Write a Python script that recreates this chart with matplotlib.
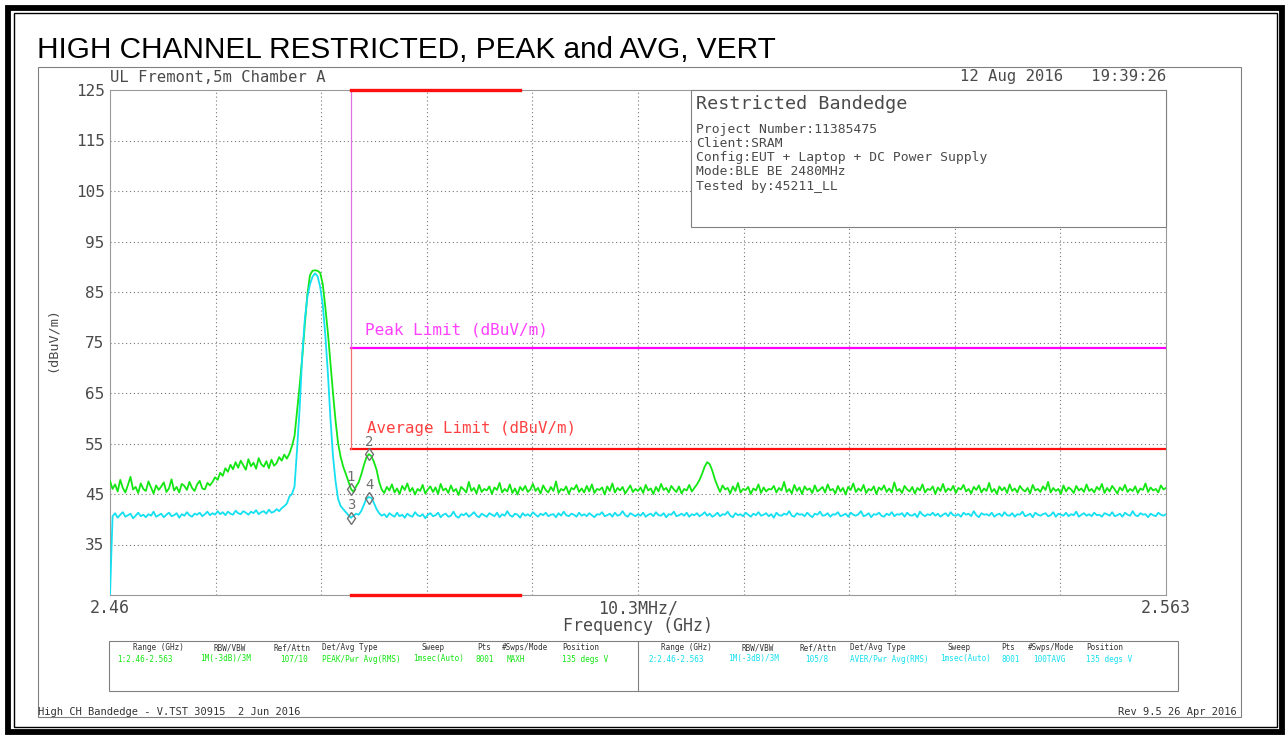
import matplotlib
matplotlib.use("Agg")
import matplotlib.pyplot as plt
from matplotlib.patches import Rectangle
import numpy as np

W, H = 1286, 745

F_START = 2.46
F_STOP = 2.563
REF_TOP = 125
REF_BOTTOM = 25

# trace 1: peak / max hold (dBuV/m), 0.25 MHz steps
peak_trace = [
    47.6, 46.0, 46.9, 45.5, 47.8, 46.2, 45.3, 46.8, 48.4, 45.9, 46.4, 45.2, 47.1, 46.0, 45.6, 47.5, 46.3, 45.1, 46.7, 45.8,
    46.5, 47.3, 45.4, 46.1, 47.9, 45.7, 46.4, 45.3, 47.0, 46.6, 45.8, 47.4, 46.2, 45.6, 46.9, 47.6, 46.1, 45.9, 47.2, 46.7,
    47.4, 48.3, 47.8, 49.2, 48.6, 50.1, 49.4, 50.8, 49.9, 51.3,
    50.2, 51.6, 50.7, 49.8, 51.9, 50.5, 51.2, 50.0, 52.1, 50.9, 50.4, 51.5, 50.1, 51.8, 50.6, 51.1, 52.3, 51.6, 52.8, 52.0,
    53.0, 54.5, 56.5, 61.5, 66.5, 72.0, 78.5, 84.5, 88.3, 89.2, 89.3, 89.2, 88.8, 86.6, 82.0, 77.0, 71.0, 65.0, 59.5, 55.0,
    52.3, 50.4, 49.0, 47.5, 46.0, 45.4, 46.5, 47.3, 48.8, 50.6, 52.2, 52.9, 52.5, 51.3, 49.8, 47.4, 45.9,
    45.2, 46.4, 45.7, 46.9, 45.3, 46.1, 45.0, 46.6, 45.8, 47.1, 45.5, 46.2, 44.9, 46.0, 45.6, 46.8, 45.1, 45.9, 46.5, 45.4,
    46.3, 45.0, 47.0, 45.7, 46.1, 45.2, 46.7, 45.5, 46.0, 44.8, 46.4, 45.9, 45.3, 47.4, 45.6, 46.2, 45.1, 46.8, 45.4, 46.0,
    45.7, 46.5, 45.0, 46.3, 45.8, 47.2, 45.3, 46.0, 45.5, 46.9, 45.2, 46.1, 44.9, 46.4, 45.7, 46.6, 45.4, 45.9, 47.0, 45.6,
    46.2, 45.1, 46.7, 45.8, 45.3, 46.4, 45.6, 47.5, 45.2, 46.0, 45.7, 46.5, 45.0, 46.2, 45.9, 46.8, 45.4, 46.1, 45.3, 46.6,
    45.5, 46.9, 45.2, 46.0, 45.8, 46.3, 44.9, 46.5, 45.6, 47.1, 45.3, 46.2, 45.7, 46.4, 45.1, 45.9, 46.7, 45.4, 46.0, 45.6,
    46.3, 45.2, 46.8, 45.7, 46.1, 45.0, 46.4, 45.5, 47.0, 45.8, 46.2, 45.3, 46.6, 45.9, 45.4, 46.5, 45.1, 46.0, 45.7, 46.8,
    45.5, 46.2,
    46.9, 47.8, 49.0, 50.4, 51.3, 50.9, 49.6, 47.9, 46.6,
    45.4, 46.7, 45.9, 46.2, 45.1, 46.5, 45.6, 47.2, 45.3, 46.0, 45.8, 46.4, 45.0, 46.1, 45.7, 46.9, 45.2, 46.3, 45.5, 46.0,
    45.9, 46.6, 45.3, 46.2, 45.7, 47.4, 45.4, 46.0, 45.1, 46.8, 45.6, 46.3, 45.0, 46.5, 45.8, 46.1, 45.2, 46.7, 45.5, 45.9,
    46.4, 45.3, 46.9, 45.7, 46.0, 45.1, 46.6, 45.5, 46.2, 44.9, 46.4, 45.8, 47.1, 45.4, 46.1, 45.6, 46.8, 45.2, 46.0, 45.7,
    46.5, 45.0, 46.3, 45.8, 46.7, 45.4, 46.1, 45.3, 47.3, 45.6, 46.0, 45.2, 46.6, 45.9, 45.5, 46.4, 45.1, 46.2, 45.7, 46.9,
    45.3, 46.0, 45.8, 46.5, 45.0, 46.3, 45.6, 47.0, 45.4, 46.1, 45.7, 46.6, 45.2, 46.2, 45.9, 46.8, 45.5, 46.0, 45.1, 46.4,
    45.8, 46.7, 45.3, 46.1, 45.6, 47.2, 45.4, 46.0, 45.0, 46.5, 45.7, 46.3, 45.2, 46.9, 45.6, 46.1, 45.3, 46.6, 45.9, 45.5,
    46.2, 45.1, 46.8, 45.7, 46.0, 45.4, 46.5, 45.8, 47.4, 45.3, 46.2, 45.6, 46.0, 45.0, 46.7, 45.5, 46.3, 45.9, 45.2, 46.6,
    45.7, 46.1, 45.4, 46.9, 45.6, 46.0, 45.3, 46.4, 45.8, 47.0, 45.2, 46.2, 45.5, 46.6, 45.9, 45.1, 46.3, 45.7, 46.8, 45.4,
    46.0, 45.6, 46.5, 45.2, 46.1, 45.8, 47.1, 45.4, 46.3, 45.7, 46.0, 45.3, 46.7, 45.9, 46.2,
]

# trace 2: average (dBuV/m)
avg_trace = [
    25.0, 40.6, 41.2, 40.3, 40.9, 41.4, 40.5, 40.8, 41.1, 40.2, 40.7, 41.3, 40.6, 40.9, 40.4, 41.0, 40.7, 41.5, 40.5, 40.8,
    41.1, 40.4, 40.9, 41.3, 40.6, 40.8, 41.2, 40.3, 41.0, 40.7, 41.4, 40.8, 40.5, 41.1, 40.9, 41.3, 40.6, 41.0, 41.5, 40.8,
    41.2, 40.9, 41.6, 41.0, 41.4, 40.8, 41.5, 41.1, 40.9, 41.7, 41.2, 41.0, 41.6, 41.3, 40.9, 41.5, 41.2, 41.8, 41.0, 41.4,
    41.6, 41.1, 41.9, 41.3, 41.5, 42.0, 41.6, 42.2, 42.6, 43.1,
    44.5, 45.0, 46.5, 54.0, 62.0, 72.5, 79.5, 84.0, 86.5, 88.0, 88.7, 88.1, 86.0, 82.5, 76.5, 69.0, 60.0, 52.5, 47.5, 44.0,
    42.6, 42.0, 41.4, 40.8, 40.3, 40.7, 41.1, 40.9, 41.6, 42.8, 44.0, 44.4, 44.2, 43.2, 42.0, 41.2,
    40.7, 41.0, 40.4, 41.2, 40.8, 40.5, 41.3, 40.6, 40.9, 40.3, 41.1, 40.7, 40.5, 41.4, 40.8, 40.6, 41.0, 40.2, 40.9, 41.2,
    40.6, 40.8, 41.3, 40.4, 40.9, 41.1, 40.5, 40.7, 41.5, 40.6, 40.3, 41.0, 40.8, 41.2, 40.5, 40.9, 41.4, 40.7, 40.4, 41.1,
    40.8, 40.5, 41.2, 40.9, 40.6, 41.3, 40.4, 41.0, 40.7, 41.6, 40.8, 40.5, 41.1, 40.9, 40.3, 41.2, 40.7, 41.0, 40.6, 41.4,
    40.9, 40.5, 41.1, 40.8, 41.3, 40.6, 40.9, 41.0, 40.4, 41.2, 40.7, 41.5, 40.8, 40.6, 41.1, 40.9, 40.5, 41.3, 40.7, 41.0,
    40.6, 41.2, 40.8, 40.4, 41.0, 40.9, 41.4, 40.6, 40.8, 41.1, 40.5, 41.3, 40.7, 40.9, 41.6, 40.8, 40.5, 41.2, 40.9, 40.6,
    41.0, 40.7, 41.3, 40.5, 40.9, 41.1, 40.6, 41.4, 40.8, 40.7, 41.2, 40.4, 41.0, 40.9, 41.5, 40.6, 40.8, 41.1, 40.7, 41.3,
    40.5, 41.0, 40.8, 41.2, 40.6, 40.9, 41.4, 40.7, 41.1, 40.5, 40.8, 41.3, 40.6, 41.0, 40.9, 41.5, 40.7, 40.4, 41.2, 40.8,
    41.0, 40.6, 41.3, 40.9, 40.5, 41.1, 40.8, 41.4, 40.7, 40.9, 41.2, 40.6, 41.0, 40.3, 41.3, 40.8, 40.7, 41.1, 40.9, 41.6,
    40.7, 40.5, 41.2, 40.9, 41.0, 40.6, 41.3, 40.8, 40.4, 41.1, 40.9, 41.5, 40.7, 40.8, 41.2, 40.5, 41.0, 40.9, 41.4, 40.6,
    40.8, 41.1, 40.5, 41.3, 40.9, 40.7, 41.0, 41.6, 40.6, 40.8, 41.2, 40.4, 41.0, 40.9, 41.3, 40.7, 40.5, 41.1, 40.8, 41.4,
    40.6, 41.0, 40.9, 41.2, 40.5, 41.3, 40.8, 40.7, 41.1, 40.4, 41.5, 40.9, 40.6, 41.0, 40.8, 41.3, 40.7, 41.1, 40.5, 40.9,
    41.2, 40.6, 41.4, 40.8, 40.7, 41.0, 40.5, 41.3, 40.9, 41.1, 40.6, 41.6, 40.8, 40.4, 41.2, 40.9, 41.0, 40.7, 41.3, 40.5,
    40.9, 41.1, 40.6, 41.4, 40.8, 40.7, 41.2, 40.5, 41.0, 40.9, 41.5, 40.6, 40.8, 41.1, 40.4, 41.3, 40.9, 40.7, 41.0, 41.2,
    40.6, 40.8, 41.4, 40.5, 41.1, 40.9, 40.7, 41.3, 40.6, 41.0, 40.8, 41.5, 40.5, 40.9, 41.2, 40.7, 41.0, 40.6, 41.3, 40.8,
    40.9, 40.5, 41.2, 41.0, 40.7, 41.4, 40.6, 40.8, 41.1, 40.5, 41.3, 40.9, 40.7, 41.6, 40.8, 40.6, 41.2, 40.9, 41.0, 40.4,
    41.1, 40.8, 40.6, 41.3, 40.9, 40.7, 41.0,
]

band_edge = 2.4835
band_stop = 2.5
peak_limit = 74.0
avg_limit = 54.0

marker_ids = ["1", "2", "3", "4"]
marker_freq = [2.4835, 2.4853, 2.4835, 2.4853]
marker_level = [45.9, 52.9, 40.3, 44.3]

ytick_values = [125, 115, 105, 95, 85, 75, 65, 55, 45, 35]
xtick_labels = ["2.46", "10.3MHz/", "2.563"]

title = "HIGH CHANNEL RESTRICTED, PEAK and AVG, VERT"
site_text = "UL Fremont,5m Chamber A"
date_text = "12 Aug 2016   19:39:26"
info_title = "Restricted Bandedge"
info_lines = [
    "Project Number:11385475",
    "Client:SRAM",
    "Config:EUT + Laptop + DC Power Supply",
    "Mode:BLE BE 2480MHz",
    "Tested by:45211_LL",
]
table_headers = ["Range (GHz)", "RBW/VBW", "Ref/Attn", "Det/Avg Type", "Sweep", "Pts", "#Swps/Mode", "Position"]
trace1_settings = ["1:2.46-2.563", "1M(-3dB)/3M", "107/10", "PEAK/Pwr Avg(RMS)", "1msec(Auto)", "8001", "MAXH", "135 degs V"]
trace2_settings = ["2:2.46-2.563", "1M(-3dB)/3M", "105/8", "AVER/Pwr Avg(RMS)", "1msec(Auto)", "8001", "100TAVG", "135 degs V"]
footer_left = "High CH Bandedge - V.TST 30915  2 Jun 2016"
footer_right = "Rev 9.5 26 Apr 2016"

GREEN = "#14e614"
CYAN = "#14e0f0"
MAGENTA = "#ff00ff"
RED = "#ff1010"
TXT = "#4a4a4a"
GRID = "#777777"
MONO = "DejaVu Sans Mono"

fig = plt.figure(figsize=(W / 100, H / 100), dpi=100)

# plot area in pixels: x 110..1166, y 90..595
ax = fig.add_axes([110 / W, (H - 595) / H, 1056 / W, 505 / H])
ax.set_xlim(F_START, F_STOP)
ax.set_ylim(REF_BOTTOM, REF_TOP)
for s in ax.spines.values():
    s.set_color("#9a9a9a")
    s.set_linewidth(0.8)

ax.set_yticks(ytick_values)
ax.set_yticklabels([str(v) for v in ytick_values], fontsize=11.5, family=MONO, color=TXT)
ax.set_xticks([F_START, (F_START + F_STOP) / 2, F_STOP])
ax.set_xticklabels(xtick_labels, fontsize=12, family=MONO, color=TXT)
ax.tick_params(axis="both", length=0)
ax.tick_params(axis="y", pad=4)
ax.tick_params(axis="x", pad=3)

# dotted graticule, 10 divisions each way
div_x = np.linspace(F_START, F_STOP, 11)[1:-1]
ax.vlines(div_x, REF_BOTTOM, REF_TOP, colors=GRID, linestyles=(0, (1, 2.5)), linewidth=0.8)
ax.hlines(ytick_values[1:], F_START, F_STOP, colors=GRID, linestyles=(0, (1, 2.5)), linewidth=0.8)

# limit lines
ax.plot([band_edge, F_STOP], [peak_limit, peak_limit], color=MAGENTA, lw=1.6, zorder=4)
ax.plot([band_edge, F_STOP], [avg_limit, avg_limit], color=RED, lw=1.6, zorder=4)
ax.plot([band_edge, band_edge], [peak_limit, REF_TOP], color="#e070e0", lw=0.9, zorder=4)
ax.plot([band_edge, band_edge], [avg_limit, peak_limit], color="#f07070", lw=0.9, zorder=4)
ax.plot([band_edge, band_stop], [REF_TOP, REF_TOP], color=RED, lw=2.4, clip_on=False, zorder=5)
ax.plot([band_edge, band_stop], [REF_BOTTOM, REF_BOTTOM], color=RED, lw=2.4, clip_on=False, zorder=5)

# traces
freq_pk = np.linspace(F_START, F_STOP, len(peak_trace))
freq_av = np.linspace(F_START, F_STOP, len(avg_trace))
ax.plot(freq_pk, peak_trace, color=GREEN, lw=1.3, zorder=3)
ax.plot(freq_av, avg_trace, color=CYAN, lw=1.3, zorder=3)

# markers
ax.plot(marker_freq, marker_level, linestyle="none", marker="d", ms=6, mfc="none",
        mec="#707070", mew=1.0, zorder=6)
for mid, f, lv in zip(marker_ids, marker_freq, marker_level):
    ax.annotate(mid, (f, lv), xytext=(0, 9), textcoords="offset points", ha="center",
                va="center", fontsize=10, family=MONO, color="#707070", zorder=6)

# overlay in pixel coordinates for frames and annotation text
ov = fig.add_axes([0, 0, 1, 1], zorder=10)
ov.set_xlim(0, W)
ov.set_ylim(H, 0)
ov.axis("off")

ov.add_patch(Rectangle((8, 8), 1281.5 - 8, 731.5 - 8, fill=False, ec="black", lw=4.2))
ov.add_patch(Rectangle((13.5, 13), 1277 - 13.5, 727 - 13, fill=False, ec="black", lw=1.0))
ov.add_patch(Rectangle((38, 67), 1241 - 38, 717 - 67, fill=False, ec="#808080", lw=0.8))

ov.text(37, 50, title, fontsize=21.4, family="Liberation Sans", color="black", ha="left", va="center")
ov.text(110, 77, site_text, fontsize=11.2, family=MONO, color=TXT, ha="left", va="center")
ov.text(1166, 77, date_text, fontsize=11.2, family=MONO, color=TXT, ha="right", va="center")
ov.text(52, 340, "(dBuV/m)", fontsize=9.7, family=MONO, color=TXT, rotation=90, ha="center", va="center")
ov.text(638, 626, "Frequency (GHz)", fontsize=12, family=MONO, color=TXT, ha="center", va="center")

ov.text(365, 330, "Peak Limit (dBuV/m)", fontsize=11.5, family=MONO, color="#ff40ff", ha="left", va="center")
ov.text(367, 429, "Average Limit (dBuV/m)", fontsize=11.3, family=MONO, color="#ff4040", ha="left", va="center")

# info box
ov.add_patch(Rectangle((691, 90), 1166 - 691, 227 - 90, fc="white", ec="#808080", lw=0.8))
ov.text(696, 104, info_title, fontsize=13.2, family=MONO, color=TXT, ha="left", va="center")
for k, line in enumerate(info_lines):
    ov.text(696, 129 + k * 14.3, line, fontsize=9.4, family=MONO, color=TXT, ha="left", va="center")

# settings table
ov.add_patch(Rectangle((109, 641), 1178 - 109, 691 - 641, fill=False, ec="#808080", lw=0.8))
ov.plot([638, 638], [641, 691], color="#808080", lw=0.8)
hdr_left = [133, 213, 273, 322, 422, 477, 502, 562]
val_left = [117, 200, 280, 322, 413, 475, 507, 562]
hdr_right = [661, 741, 800, 850, 948, 1001, 1028, 1086]
val_right = [648, 728, 805, 850, 940, 1001, 1033, 1086]
TFS = 5.5
for h, x1, x2 in zip(table_headers, hdr_left, hdr_right):
    ov.text(x1, 648, h, fontsize=TFS, family=MONO, color="#333333", ha="left", va="center")
    ov.text(x2, 648, h, fontsize=TFS, family=MONO, color="#333333", ha="left", va="center")
for v, x in zip(trace1_settings, val_left):
    ov.text(x, 659, v, fontsize=TFS, family=MONO, color=GREEN, ha="left", va="center")
for v, x in zip(trace2_settings, val_right):
    ov.text(x, 659, v, fontsize=TFS, family=MONO, color=CYAN, ha="left", va="center")

ov.text(38, 712, footer_left, fontsize=7.5, family=MONO, color="#333333", ha="left", va="center")
ov.text(1237, 712, footer_right, fontsize=7.5, family=MONO, color="#333333", ha="right", va="center")

fig.savefig("out.png", dpi=100)
